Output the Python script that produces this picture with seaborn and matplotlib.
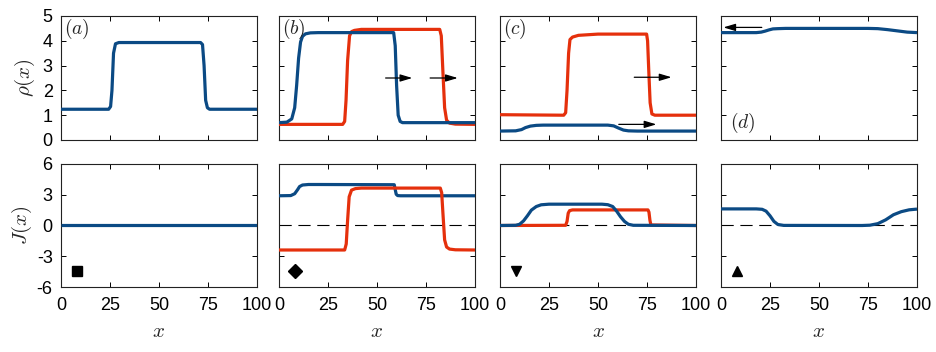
import numpy as np
import pandas as pd
import matplotlib
matplotlib.use("Agg")
import matplotlib.pyplot as plt
import seaborn as sns

sns.set_theme(style="ticks")
plt.rcParams['font.family'] = ['Liberation Sans', 'DejaVu Sans']
plt.rcParams['mathtext.fontset'] = 'cm'
plt.rcParams['axes.unicode_minus'] = False

BLUE = "#0b4a84"
RED = "#e5300c"

## Data ##

# (a)
a_rho_x = [0, 24.3, 25.3, 26.0, 26.8, 27.8, 29.5, 71.2, 72.2, 73.0, 73.8, 74.7, 75.8, 100]
a_rho_y = [1.24, 1.24, 1.35, 2.0, 3.5, 3.88, 3.93, 3.93, 3.85, 3.0, 1.6, 1.3, 1.24, 1.24]
a_J_x = [0, 100]
a_J_y = [0, 0]

# (b)
b_rho_blue_x = [0, 4, 6.5, 8, 9, 10, 11, 12, 13.5, 16, 20, 58.5, 59.3, 60, 60.8, 61.8, 63, 100]
b_rho_blue_y = [0.70, 0.72, 0.85, 1.3, 2.2, 3.3, 3.95, 4.18, 4.28, 4.32, 4.33, 4.33, 3.8, 2.2, 1.0, 0.75, 0.70, 0.70]
b_rho_red_x = [0, 32.5, 33.5, 34.2, 35, 36, 37, 38.5, 42, 82, 82.8, 83.6, 84.5, 85.5, 87, 90, 100]
b_rho_red_y = [0.63, 0.63, 0.75, 1.6, 3.2, 4.2, 4.37, 4.42, 4.46, 4.46, 4.2, 2.8, 1.3, 0.8, 0.68, 0.64, 0.63]
b_J_blue_x = [0, 6, 8, 9.5, 10.5, 12, 15, 20, 58.8, 59.3, 59.8, 60.5, 62, 100]
b_J_blue_y = [2.9, 2.92, 3.1, 3.5, 3.8, 3.95, 4.0, 4.0, 3.98, 3.5, 3.05, 2.92, 2.9, 2.9]
b_J_red_x = [0, 33.5, 34.3, 35, 35.8, 37, 39, 42, 82.3, 83, 83.7, 84.5, 85.5, 87, 90, 100]
b_J_red_y = [-2.39, -2.39, -1.8, 0.5, 2.8, 3.45, 3.6, 3.65, 3.65, 3.2, 1.0, -1.4, -2.1, -2.3, -2.37, -2.39]

# (c)
c_rho_red_x = [0, 32.5, 33.5, 34.2, 35, 35.7, 37, 40, 50, 74.8, 75.3, 75.9, 76.6, 77.5, 79, 100]
c_rho_red_y = [1.02, 1.0, 1.1, 2.0, 3.5, 4.05, 4.15, 4.22, 4.27, 4.27, 4.0, 2.8, 1.5, 1.05, 1.0, 1.0]
c_rho_blue_x = [0, 8, 11, 13, 15.5, 18.5, 22, 55, 58, 60.5, 63, 65.5, 70, 100]
c_rho_blue_y = [0.36, 0.37, 0.42, 0.5, 0.56, 0.59, 0.6, 0.6, 0.57, 0.48, 0.4, 0.37, 0.36, 0.36]
c_J_red_x = [0, 33.5, 34.2, 34.8, 35.5, 37, 75.5, 76, 76.5, 77, 100]
c_J_red_y = [0, 0.02, 0.4, 1.2, 1.45, 1.52, 1.52, 1.3, 0.5, 0.05, 0]
c_J_blue_x = [0, 8, 10, 12, 14, 16, 18.5, 21, 25, 52, 55, 57.5, 59.5, 61.5, 63.5, 65.5, 68, 100]
c_J_blue_y = [0, 0.02, 0.12, 0.45, 0.95, 1.5, 1.85, 2.02, 2.08, 2.08, 2.03, 1.85, 1.4, 0.85, 0.4, 0.12, 0.02, 0]

# (d)
d_rho_x = [0, 18, 20.5, 22.5, 24.5, 26.5, 29, 33, 75, 80, 85, 90, 95, 100]
d_rho_y = [4.33, 4.33, 4.35, 4.39, 4.44, 4.48, 4.49, 4.5, 4.5, 4.49, 4.45, 4.4, 4.35, 4.33]
d_J_x = [0, 18, 21, 23, 25, 27, 29, 32, 72, 76, 80, 84, 88, 92, 96, 100]
d_J_y = [1.62, 1.62, 1.58, 1.4, 0.95, 0.4, 0.1, 0.01, 0, 0.03, 0.18, 0.55, 1.05, 1.35, 1.53, 1.6]

x_ticks = [0, 25, 50, 75, 100]
rho_ticks = [0, 1, 2, 3, 4, 5]
J_ticks = [-6, -3, 0, 3, 6]

## Figure ##

fig = plt.figure(figsize=(9.36, 3.52), dpi=100)
W, H = 936, 352
lefts = [61, 279, 500, 721]
pw = 196


def make_ax(left, top, bottom):
    return fig.add_axes([left / W, 1 - bottom / H, pw / W, (bottom - top) / H])


def style(ax, ylim, yticks, first, bottom_row):
    ax.set_xlim(0, 100)
    ax.set_ylim(*ylim)
    ax.set_xticks(x_ticks)
    ax.set_yticks(yticks)
    ax.tick_params(direction="in", length=3.5, width=0.7, top=True, right=True,
                   labelsize=13, colors="black")
    ax.tick_params(axis="x", pad=7)
    ax.tick_params(axis="y", pad=6)
    for s in ax.spines.values():
        s.set_linewidth(0.8)
        s.set_color("#222222")
        s.set_visible(True)
    if not first:
        ax.set_yticklabels([])
    if not bottom_row:
        ax.set_xticklabels([])
    ax.set_xlabel("")
    ax.set_ylabel("")


def curve(ax, xs, ys, color):
    sns.lineplot(x=xs, y=ys, ax=ax, color=color, lw=2.3, estimator=None,
                 solid_joinstyle="round", solid_capstyle="butt", zorder=3)


def arrow(ax, x0, x1, y):
    ax.annotate("", xy=(x1, y), xytext=(x0, y),
                arrowprops=dict(arrowstyle="-|>,head_length=0.6,head_width=0.18",
                                color="black", lw=0.9, shrinkA=0, shrinkB=0),
                zorder=5)


top_axes = [make_ax(l, 16, 140) for l in lefts]
bot_axes = [make_ax(l, 164, 287) for l in lefts]

# rho row
curve(top_axes[0], a_rho_x, a_rho_y, BLUE)
curve(top_axes[1], b_rho_red_x, b_rho_red_y, RED)
curve(top_axes[1], b_rho_blue_x, b_rho_blue_y, BLUE)
curve(top_axes[2], c_rho_red_x, c_rho_red_y, RED)
curve(top_axes[2], c_rho_blue_x, c_rho_blue_y, BLUE)
curve(top_axes[3], d_rho_x, d_rho_y, BLUE)

arrow(top_axes[1], 54.4, 68.0, 2.5)
arrow(top_axes[1], 77.1, 91.2, 2.5)
arrow(top_axes[2], 68.5, 87.5, 2.53)
arrow(top_axes[2], 60.6, 79.8, 0.63)
arrow(top_axes[3], 20.8, 1.2, 4.54)

# J row
for ax in bot_axes[1:]:
    ax.axhline(0, color="black", lw=0.8, ls=(0, (11, 6)), zorder=1)
curve(bot_axes[0], a_J_x, a_J_y, BLUE)
curve(bot_axes[1], b_J_blue_x, b_J_blue_y, BLUE)
curve(bot_axes[1], b_J_red_x, b_J_red_y, RED)
curve(bot_axes[2], c_J_red_x, c_J_red_y, RED)
curve(bot_axes[2], c_J_blue_x, c_J_blue_y, BLUE)
curve(bot_axes[3], d_J_x, d_J_y, BLUE)

markers = ["s", "D", "v", "^"]
for ax, m in zip(bot_axes, markers):
    ax.plot([8.2], [-4.45], marker=m, color="black", ms=7.5 if m != "D" else 7,
            ls="none", zorder=5)

for i, ax in enumerate(top_axes):
    style(ax, (0, 5), rho_ticks, i == 0, False)
for i, ax in enumerate(bot_axes):
    style(ax, (-6, 6), J_ticks, i == 0, True)
    ax.set_xlabel(r"$x$", fontsize=15, labelpad=6)

top_axes[0].set_ylabel(r"$\rho(x)$", fontsize=15, labelpad=4)
bot_axes[0].set_ylabel(r"$J(x)$", fontsize=15, labelpad=2)

labels = [r"$(a)$", r"$(b)$", r"$(c)$", r"$(d)$"]
for ax, lab in zip(top_axes[:3], labels[:3]):
    ax.text(1.5, 4.95, lab, fontsize=14, va="top", ha="left")
top_axes[3].text(4.5, 0.2, labels[3], fontsize=14, va="bottom", ha="left")

fig.savefig("out.png", dpi=100)
